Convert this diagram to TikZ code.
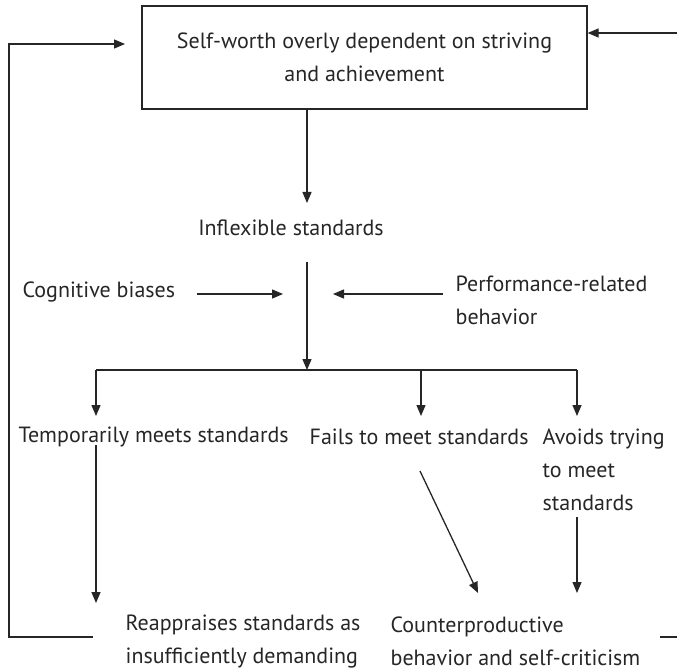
\documentclass[tikz,border=0pt]{standalone}
\usepackage{fontspec}
\setmainfont{PT Sans}
\usetikzlibrary{arrows.meta}
\begin{document}
\begin{tikzpicture}[x=1pt,y=-1pt,
  line width=1.3pt,
  every node/.style={font=\fontsize{22}{33}\selectfont, text=black!85, inner sep=0pt},
  lbl/.style={anchor=west, align=left},
  arr/.style={-{Triangle[length=11pt,width=9pt]}},
  conn/.style={draw=black!85}]
\useasboundingbox (0,0) rectangle (677,671);

% central box
\node[draw=black!85, minimum width=445pt, minimum height=103pt, align=center]
  (box) at (364.5,57.5) {Self-worth overly dependent on striving\\and achievement};

\node (infl) at (291,228) {Inflexible standards};
\node[lbl] (cog) at (22,292) {Cognitive biases};
\node[lbl] (perf) at (455,300.5) {Performance-related\\behavior};
\node[lbl] (temp) at (18,437) {Temporarily meets standards};
\node[lbl] (fail) at (309,437) {Fails to meet standards};
\node[lbl] (avoid) at (542,470) {Avoids trying\\to meet\\standards};
\node[lbl] (reap) at (125,641.5) {Reappraises standards as\\insufficiently demanding};
\node[lbl] (counter) at (390,641.5) {Counterproductive\\behavior and self-criticism};

% junction points
\coordinate (trunk) at (307,370);
\coordinate (bl) at (96,370);
\coordinate (bm) at (421,370);
\coordinate (br) at (577,370);
\coordinate (cogtip) at (283,294);
\coordinate (perftip) at (333,294);

% main flow
\draw[conn,arr] (box.south -| trunk) -- (307,203);
\draw[conn,arr] (307,262) -- (trunk);
\draw[conn,arr] (197,294) -- (cogtip);
\draw[conn,arr] (443,294) -- (perftip);
\draw[conn] (bl) -- (br);
\draw[conn,arr] (bl) -- (96,416);
\draw[conn,arr] (bm) -- (421,416);
\draw[conn,arr] (br) -- (577,416);

% outcomes
\draw[conn,arr] (96,445) -- (96,603);
\draw[conn,arr] (420,471) -- (478,593);
\draw[conn,arr] (577,517) -- (577,593);

% feedback loops
\draw[conn,arr] (93,637) -- (9,637) -- (9,44) -- (125,44);
\draw[conn,arr] (660,637) -- (700,637) -- (700,33) -- (box.east |- 0,33);
\end{tikzpicture}
\end{document}
